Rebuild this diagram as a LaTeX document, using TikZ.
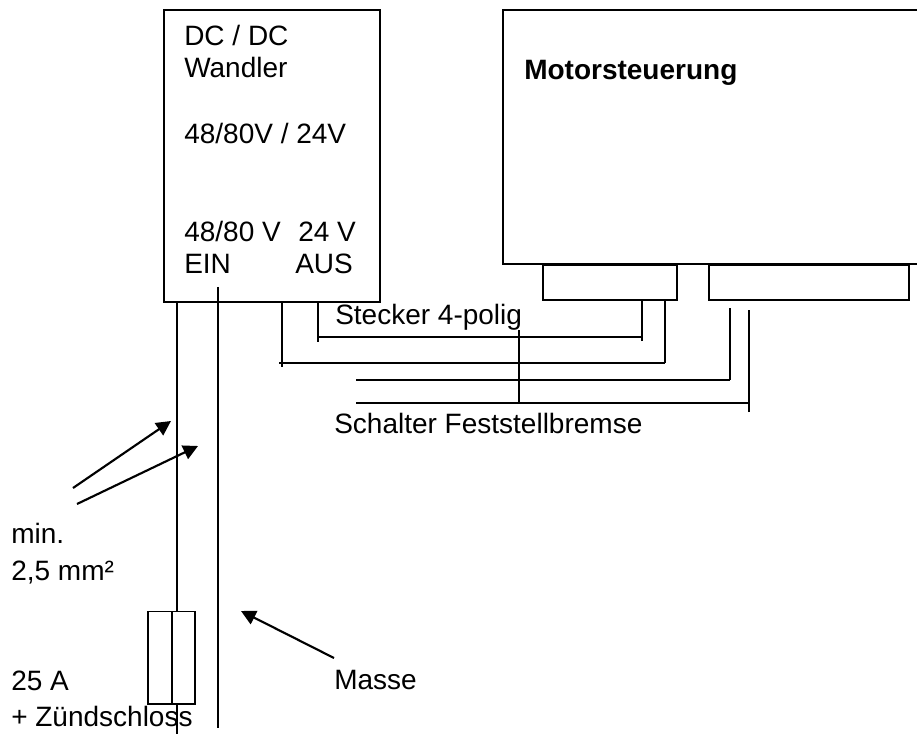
\documentclass[tikz,border=0pt]{standalone}
\usepackage{fontspec}
\setmainfont{Liberation Sans}
\usetikzlibrary{arrows.meta}
\tikzset{
    box/.style={draw,line width=1.3pt,anchor=north west,inner sep=0pt,outer sep=0pt},
    wire/.style={line width=1.25pt},
    pointer/.style={line width=1.6pt,-{Triangle[length=11pt,width=11pt]}},
    label/.style={anchor=base west,inner sep=0pt,font=\fontsize{21}{24}\selectfont},
}
\begin{document}
\begin{tikzpicture}[x=0.75pt,y=-0.75pt]
    \useasboundingbox (0,0) rectangle (917,734);

    % Kaesten
    \node[box,minimum width=162pt,minimum height=219pt] (wandler) at (164,10) {};
    \node[box,minimum width=330pt,minimum height=190.5pt] (motor) at (503,10) {};
    \node[box,minimum width=100.5pt,minimum height=26.5pt] (steckerA) at (543,265) {};
    \node[box,minimum width=150pt,minimum height=26.5pt] (steckerB) at (709,265) {};
    \node[box,minimum width=35pt,minimum height=69.5pt] (sicherung) at (148,611.5) {};

    % Texte
    \node[label] (dc) at (184,46) {DC / DC};
    \node[label] (typ) at (184,78) {Wandler};
    \node[label] (span) at (184,144) {48/80V / 24V};
    \node[label] (ein) at (184,242) {48/80 V};
    \node[label] (aus) at (298,242) {24 V};
    \node[label] (einb) at (184,274) {EIN};
    \node[label] (ausb) at (295,274) {AUS};
    \node[label,font=\fontsize{21}{24}\selectfont\bfseries] (titel) at (524,80) {Motorsteuerung};
    \node[label] (stecker) at (335,325) {Stecker 4-polig};
    \node[label] (schalter) at (334,433) {Schalter Feststellbremse};
    \node[label] (min) at (11,543) {min.};
    \node[label] (quer) at (11,580) {2,5 mm²};
    \node[label] (ampere) at (11,690) {25 A};
    \node[label] (zuend) at (11,726) {+ Zündschloss};
    \node[label] (masse) at (334,689) {Masse};

    % Leitungen Wandler
    \coordinate (plusA) at (177,302);
    \coordinate (plusB) at (177,611);
    \coordinate (sichA) at (172,611);
    \coordinate (sichB) at (172,704);
    \coordinate (plusC) at (177,704);
    \coordinate (plusD) at (177,734);
    \coordinate (gndA) at (218,287);
    \coordinate (gndB) at (218,728);

    % Leitungen Stecker
    \coordinate (vierA) at (282,302);
    \coordinate (vierB) at (282,367);
    \coordinate (vierC) at (279,363);
    \coordinate (vierD) at (665,363);
    \coordinate (vierE) at (665,300);
    \coordinate (dreiA) at (318,302);
    \coordinate (dreiB) at (318,342);
    \coordinate (dreiC) at (318,337);
    \coordinate (dreiD) at (642,337);
    \coordinate (dreiE) at (642,341);
    \coordinate (dreiF) at (642,300);
    \coordinate (schA) at (356,380);
    \coordinate (schB) at (730,380);
    \coordinate (schC) at (730,308);
    \coordinate (brA) at (356,403);
    \coordinate (brB) at (749,403);
    \coordinate (brC) at (749,412);
    \coordinate (brD) at (749,310);
    \coordinate (stegA) at (519,330);
    \coordinate (stegB) at (519,403);

    \foreach \a/\b in {plusA/plusB,sichA/sichB,plusC/plusD,gndA/gndB,
                       vierA/vierB,vierC/vierD,vierD/vierE,
                       dreiA/dreiB,dreiC/dreiD,dreiE/dreiF,
                       schA/schB,schB/schC,brA/brB,brC/brD,stegA/stegB}{
        \draw[wire] (\a) -- (\b);
    }

    % Pfeile
    \coordinate (pfeilA) at (73,488);
    \coordinate (spitzeA) at (171,421);
    \coordinate (pfeilB) at (77,504);
    \coordinate (spitzeB) at (198,446);
    \coordinate (pfeilC) at (334,658);
    \coordinate (spitzeC) at (241,611);
    \draw[pointer] (pfeilA) -- (spitzeA);
    \draw[pointer] (pfeilB) -- (spitzeB);
    \draw[pointer] (pfeilC) -- (spitzeC);
\end{tikzpicture}
\end{document}
